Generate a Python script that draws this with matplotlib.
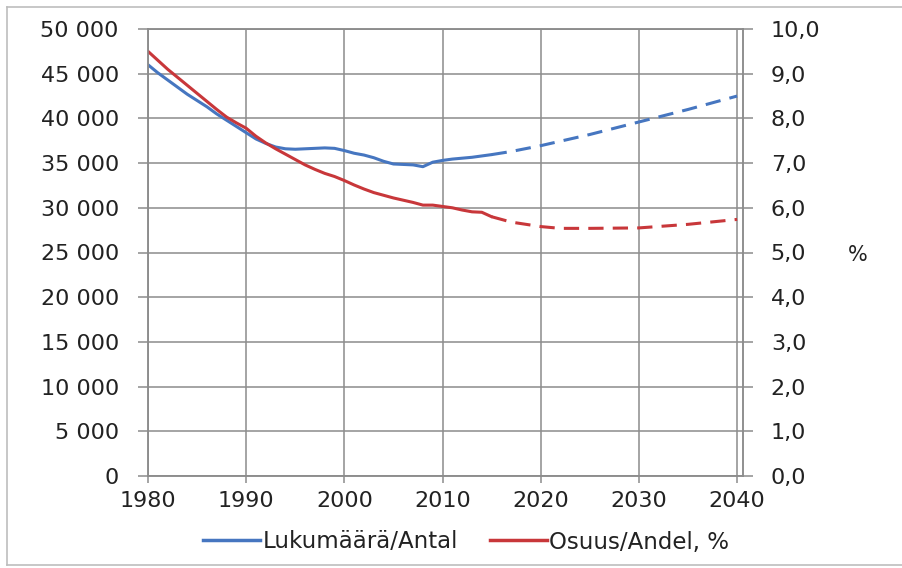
import matplotlib
matplotlib.use('Agg')
import matplotlib.pyplot as plt
from matplotlib.lines import Line2D
from matplotlib.ticker import FuncFormatter, MultipleLocator

# Tilastoidut vuodet 1980-2015
years = list(range(1980, 2016))
count = [46000, 45100, 44300, 43500, 42700, 42000, 41300, 40500, 39800, 39100,
         38400, 37700, 37200, 36800, 36600, 36550, 36600, 36650, 36700, 36650,
         36400, 36100, 35900, 35600, 35200, 34900, 34850, 34800, 34600, 35100,
         35300, 35450, 35550, 35650, 35800, 35950]
share = [9.50, 9.30, 9.10, 8.92, 8.74, 8.56, 8.38, 8.20, 8.03, 7.90,
         7.78, 7.60, 7.45, 7.32, 7.20, 7.08, 6.96, 6.86, 6.77, 6.70,
         6.61, 6.51, 6.42, 6.34, 6.28, 6.22, 6.17, 6.12, 6.06, 6.06,
         6.03, 6.00, 5.95, 5.91, 5.90, 5.80]

# Ennuste 2015-2040
proj_years = [2015, 2017, 2020, 2022, 2025, 2030, 2035, 2040]
proj_count = [35950, 36300, 36950, 37450, 38200, 39600, 41000, 42500]
proj_share = [5.80, 5.68, 5.58, 5.54, 5.54, 5.55, 5.63, 5.74]

legend_labels = ["Lukumäärä/Antal", "Osuus/Andel, %"]

blue = "#4676c0"
red = "#c8373a"
grid_col = "#8c8c8c"

plt.rcParams['font.family'] = ['DejaVu Sans']

fig = plt.figure(figsize=(9.03, 5.68), dpi=100)
ax = fig.add_axes([148 / 903, 1 - 476 / 568, (743 - 148) / 903, (476 - 29) / 568])
ax2 = ax.twinx()

ax.plot(years, count, color=blue, lw=2.2, solid_capstyle='round')
ax.plot(proj_years, proj_count, color=blue, lw=2.2, dashes=(5, 3))
ax2.plot(years, share, color=red, lw=2.2, solid_capstyle='round')
ax2.plot(proj_years, proj_share, color=red, lw=2.2, dashes=(5, 3))

ax.set_xlim(1980, 2040.6)
ax.set_ylim(0, 50000)
ax2.set_ylim(0, 10)
ax.xaxis.set_major_locator(MultipleLocator(10))
ax.yaxis.set_major_locator(MultipleLocator(5000))
ax2.yaxis.set_major_locator(MultipleLocator(1))

ax.yaxis.set_major_formatter(FuncFormatter(lambda v, p: f"{int(v):,}".replace(",", " ")))
ax2.yaxis.set_major_formatter(FuncFormatter(lambda v, p: f"{v:.1f}".replace(".", ",")))

ax.grid(True, color=grid_col, lw=1.1)
ax.set_axisbelow(True)
for a in (ax, ax2):
    for s in a.spines.values():
        s.set_color(grid_col)
        s.set_linewidth(1.1)

ax.tick_params(axis='y', length=7, width=1.1, color=grid_col, pad=14, labelsize=16, labelcolor='#222222')
ax.tick_params(axis='x', length=5, width=1.1, color=grid_col, pad=6, labelsize=16, labelcolor='#222222')
ax2.tick_params(axis='y', length=7, width=1.1, color=grid_col, pad=13, labelsize=16, labelcolor='#222222')

fig.text(858 / 903, 1 - 255 / 568, "%", fontsize=15, ha='center', va='center', color='#222222')

handles = [Line2D([], [], color=blue, lw=2.5), Line2D([], [], color=red, lw=2.5)]
fig.legend(handles, legend_labels, loc='center', bbox_to_anchor=(466 / 903, 1 - 542 / 568),
           ncol=2, frameon=False, fontsize=16.5, handlelength=2.5, handletextpad=0.1,
           columnspacing=1.4, labelcolor='#222222')

# kehys kuvan ympärillä
frame_col = "#bdbdbd"
fig.add_artist(Line2D([7 / 903, 7 / 903], [1 - 565 / 568, 1 - 7 / 568], color=frame_col, lw=1.2, transform=fig.transFigure))
fig.add_artist(Line2D([7 / 903, 1], [1 - 7 / 568, 1 - 7 / 568], color=frame_col, lw=1.2, transform=fig.transFigure))
fig.add_artist(Line2D([7 / 903, 1], [1 - 565 / 568, 1 - 565 / 568], color=frame_col, lw=1.2, transform=fig.transFigure))

fig.savefig("out.png", dpi=100)
plt.close(fig)
